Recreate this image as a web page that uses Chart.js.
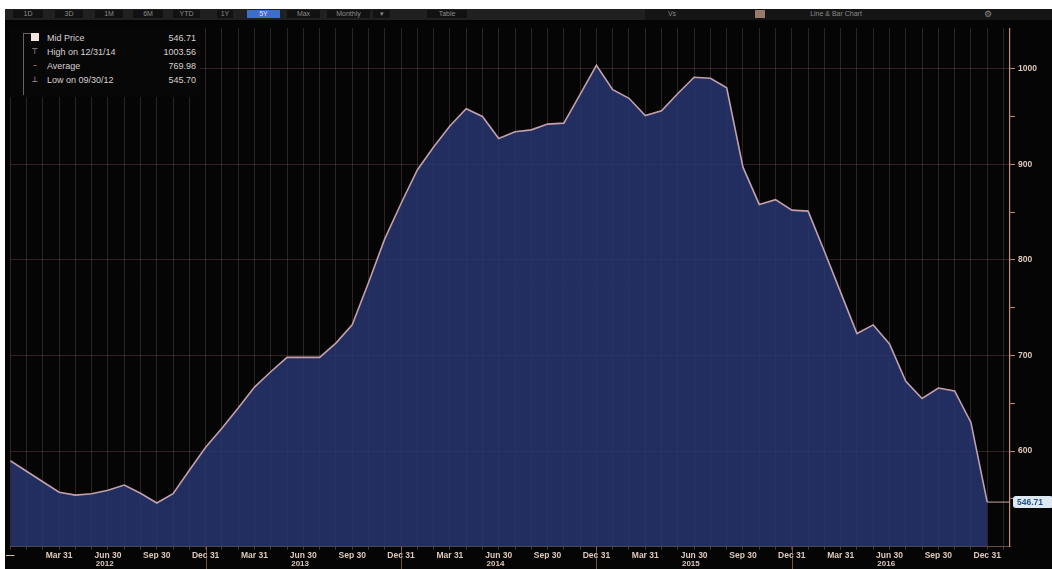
<!DOCTYPE html>
<html>
<head>
<meta charset="utf-8">
<script src="https://cdn.jsdelivr.net/npm/chart.js@4.4.1/dist/chart.umd.min.js"></script>
<style>
  html, body { margin: 0; padding: 0; background: #fff; }
  body { width: 1052px; height: 569px; position: relative; overflow: hidden; font-family: "Liberation Sans", Arial, sans-serif; }
  #toolbar { position: absolute; left: 5px; top: 9px; width: 1047px; height: 11px; background: #202020; }
  .btn { position: absolute; top: 1px; height: 8px; line-height: 8px; font-size: 7px; color: #8a8a8a; background: #121212; text-align: center; }
  .btn.on { background: #3b6fc9; color: #d8e6ff; }
  #wrap { position: absolute; left: 5px; top: 20px; width: 1047px; height: 549px; background: #050505; }
  #legend { position: absolute; left: 10px; top: 28px; width: 190px; height: 69px; background: #070707; color: #d9d0d0; font-size: 9px; }
  .row { position: absolute; left: 0; width: 190px; height: 14px; line-height: 14px; }
  .row .ic { position: absolute; left: 20px; width: 10px; text-align: center; font-family: "DejaVu Sans", sans-serif; font-size: 8px; color: #cbb; }
  .row .lb { position: absolute; left: 37px; }
  .row .vl { position: absolute; right: 4px; }
</style>
</head>
<body>
<div id="toolbar"></div>
<div id="wrap"><canvas id="chart"></canvas></div>
<div id="legend">
  <div style="position:absolute;left:13px;top:5px;width:1px;height:62px;background:#6a6262"></div>
  <div style="position:absolute;left:13px;top:5px;width:8px;height:1px;background:#6a6262"></div>
  <div class="row" style="top:3px"><span class="ic"><span style="display:inline-block;width:8px;height:8px;background:#f4e4e0;vertical-align:-1px"></span></span><span class="lb">Mid Price</span><span class="vl">546.71</span></div>
  <div class="row" style="top:17px"><span class="ic">⊤</span><span class="lb">High on 12/31/14</span><span class="vl">1003.56</span></div>
  <div class="row" style="top:31px"><span class="ic" style="color:#d08a70">–</span><span class="lb">Average</span><span class="vl">769.98</span></div>
  <div class="row" style="top:45px"><span class="ic">⊥</span><span class="lb">Low on 09/30/12</span><span class="vl">545.70</span></div>
</div>
<script>
// month-end mid prices, Dec 2011 .. Dec 2016
const midPrice = [
  590, 579, 568, 557, 554, 555.5, 559, 564.5, 556, 545.7, 555.5, 580, 604,
  624, 645, 667, 683, 698, 698, 698, 713, 732, 776, 822, 859,
  894, 918, 940, 958, 950, 927, 934, 936, 942, 943, 973, 1003.56,
  978, 969, 951, 956, 974, 991, 990, 980, 897, 858, 863, 852,
  851, 809, 766, 723, 732, 712, 673, 655, 666, 663, 630, 546.71
];
// one label every third month
const quarterLabels = [
  '—', 'Mar 31', 'Jun 30', 'Sep 30', 'Dec 31',
  'Mar 31', 'Jun 30', 'Sep 30', 'Dec 31',
  'Mar 31', 'Jun 30', 'Sep 30', 'Dec 31',
  'Mar 31', 'Jun 30', 'Sep 30', 'Dec 31',
  'Mar 31', 'Jun 30', 'Sep 30', 'Dec 31'
];
const yearLabels = ['2012', '2013', '2014', '2015', '2016'];
const yearCenters = [5.8, 17.8, 29.8, 41.8, 53.8];
const yearBreaks = [12, 24, 36, 48];
const yTicks = [550, 600, 650, 700, 750, 800, 850, 900, 950, 1000];

const toolbarButtons = [
  ['1D', 8, 30], ['3D', 50, 28], ['1M', 90, 28], ['6M', 128, 30], ['YTD', 168, 27],
  ['1Y', 212, 16], ['5Y', 242, 33], ['Max', 282, 33], ['Monthly', 322, 43], ['▾', 368, 17], ['Table', 422, 40]
];
const tb = document.getElementById('toolbar');
toolbarButtons.forEach(([t, x, w]) => {
  const d = document.createElement('div');
  d.className = 'btn' + (t === '5Y' ? ' on' : '');
  d.style.left = x + 'px'; d.style.width = w + 'px';
  d.textContent = t;
  tb.appendChild(d);
});
const right = document.createElement('div');
right.style.cssText = 'position:absolute;left:640px;top:0;width:407px;height:11px;background:#151515';
right.innerHTML = '<span class="btn" style="left:20px;width:14px;background:none">Vs</span>' +
  '<span class="btn" style="left:110px;width:10px;background:#9a7a6a"></span>' +
  '<span class="btn" style="left:140px;width:102px;background:none">Line &amp; Bar Chart</span>' +
  '<span class="btn" style="left:338px;width:10px;background:none;font-size:9px">⚙</span>';
tb.appendChild(right);

const axisColor = '#c88a72';
const gridColor = 'rgba(135,100,95,0.32)';
const labelColor = '#dcc8bc';

const extras = {
  id: 'extras',
  beforeDraw(chart) {
    const c = chart.ctx;
    c.save();
    c.fillStyle = '#050505';
    c.fillRect(0, 0, chart.width, chart.height);
    c.restore();
  },
  afterDraw(chart) {
    const c = chart.ctx, x = chart.scales.x, y = chart.scales.y, a = chart.chartArea;
    c.save();
    // year separators under the axis
    c.strokeStyle = 'rgba(200,150,130,0.55)';
    c.lineWidth = 1;
    yearBreaks.forEach(v => {
      const px = Math.round(x.getPixelForValue(v)) + 0.5;
      c.beginPath(); c.moveTo(px, a.bottom); c.lineTo(px, chart.height); c.stroke();
    });
    // last value marker
    const last = midPrice[midPrice.length - 1];
    const lx = x.getPixelForValue(midPrice.length - 1);
    const ly = y.getPixelForValue(last);
    c.strokeStyle = '#c9a8a8';
    c.beginPath(); c.moveTo(lx, ly); c.lineTo(a.right, ly); c.stroke();
    const bx = a.right + 3, bw = 40, bh = 12;
    c.fillStyle = '#dde9f2';
    c.beginPath();
    c.roundRect(bx, ly - bh / 2, bw, bh, 3);
    c.fill();
    c.fillStyle = '#1d4f86';
    c.font = 'bold 8.5px "Liberation Sans", Arial, sans-serif';
    c.textBaseline = 'middle';
    c.fillText(last.toFixed(2), bx + 4, ly + 0.5);
    c.restore();
  }
};

new Chart(document.getElementById('chart'), {
  type: 'line',
  data: {
    datasets: [{
      data: midPrice.map((v, i) => ({ x: i, y: v })),
      borderColor: '#c3a0aa',
      borderWidth: 1.6,
      backgroundColor: 'rgba(40,52,112,0.86)',
      fill: 'start',
      pointRadius: 0,
      tension: 0
    }]
  },
  options: {
    responsive: true,
    maintainAspectRatio: false,
    animation: false,
    layout: { padding: { left: 5, top: 2, right: 0, bottom: 0 } },
    plugins: { legend: { display: false }, tooltip: { enabled: false } },
    scales: {
      x: {
        type: 'linear',
        min: 0,
        max: 61.4,
        afterBuildTicks: s => { s.ticks = midPrice.map((v, i) => ({ value: i })); s.ticks.push({ value: 61 }); },
        afterFit: s => { s.height = 12.5; },
        ticks: {
          autoSkip: false,
          maxRotation: 0,
          padding: 1,
          color: labelColor,
          font: { family: '"Liberation Sans", Arial, sans-serif', size: 8.5, weight: 'bold' },
          callback: v => (v % 3 === 0 && quarterLabels[v / 3] !== undefined) ? quarterLabels[v / 3] : ''
        },
        grid: { color: gridColor, lineWidth: 1, tickLength: 3, tickColor: 'rgba(200,150,130,0.35)' },
        border: { color: 'rgba(200,150,130,0.5)' }
      },
      x2: {
        type: 'linear',
        position: 'bottom',
        min: 0,
        max: 61.4,
        afterBuildTicks: s => { s.ticks = yearCenters.map(v => ({ value: v })); },
        afterFit: s => { s.height = 9.75; },
        ticks: {
          autoSkip: false,
          maxRotation: 0,
          padding: 0,
          color: labelColor,
          font: { family: '"Liberation Sans", Arial, sans-serif', size: 8, weight: 'bold' },
          callback: (v, i) => yearLabels[i]
        },
        grid: { display: false, drawTicks: false, tickLength: 0 },
        border: { display: false }
      },
      y: {
        position: 'right',
        min: 500,
        max: 1042.4,
        afterBuildTicks: s => { s.ticks = yTicks.map(v => ({ value: v })); },
        afterFit: s => { s.width = 42; },
        ticks: {
          padding: 3,
          color: labelColor,
          font: { family: '"Liberation Sans", Arial, sans-serif', size: 8.5, weight: 'bold' },
          callback: v => (v % 100 === 0 ? String(v) : '')
        },
        grid: {
          color: ctx => (ctx.tick && ctx.tick.value % 100 === 0 ? gridColor : 'rgba(0,0,0,0)'),
          tickLength: 5,
          tickColor: axisColor
        },
        border: { color: axisColor, width: 1.2 }
      }
    }
  },
  plugins: [extras]
});
</script>
</body>
</html>
